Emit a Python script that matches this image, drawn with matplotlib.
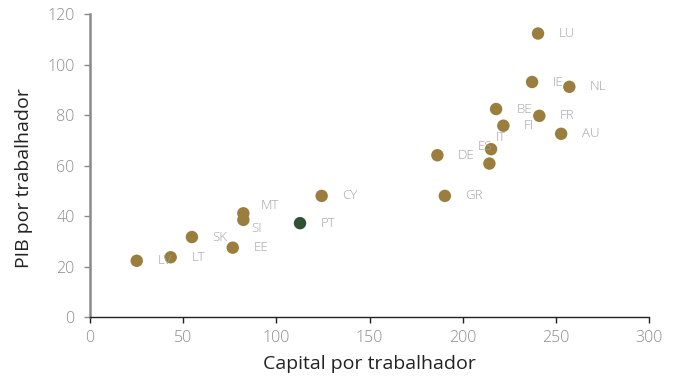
import matplotlib.pyplot as plt

countries = ["LU", "IE", "NL", "BE", "FR", "FI", "AU", "IT", "ES", "DE", "GR",
             "CY", "PT", "MT", "SI", "SK", "EE", "LT", "LV"]
capital = [240.4, 237.2, 257.2, 217.9, 241.1, 221.8, 252.8, 215.2, 214.3, 186.4, 190.4,
           124.3, 112.7, 82.3, 82.3, 54.7, 76.6, 43.3, 25.1]
pib = [112.3, 93.1, 91.2, 82.4, 79.7, 75.8, 72.6, 66.5, 60.8, 64.1, 48.0,
       48.0, 37.2, 41.1, 38.5, 31.7, 27.5, 23.7, 22.3]

# label offsets in pixels (dx, dy), default to the right of the point
offsets = {"IT": (5, 12), "ES": (-12, 17), "MT": (17, 8), "SI": (8, -9)}

gold = "#9b7d3d"
green = "#2f5234"
colors = [green if c == "PT" else gold for c in countries]

plt.rcParams["font.family"] = ["Open Sans", "DejaVu Sans"]
fig = plt.figure(figsize=(6.79, 3.91), dpi=100)
ax = fig.add_axes([0.1325, 0.189, 0.8235, 0.775])

ax.scatter(capital, pib, s=80, c=colors, linewidths=0, zorder=3)
for c, x, y in zip(countries, capital, pib):
    dx, dy = offsets.get(c, (20.5, 0))
    ax.annotate(c, (x, y), xytext=(dx * 0.72, dy * 0.72), textcoords="offset points",
                ha="left", va="center", fontsize=9.5, color="#a3a3a3", fontweight="light")

ax.set_xlim(0, 300)
ax.set_ylim(0, 120)
ax.set_xticks(range(0, 301, 50))
ax.set_yticks(range(0, 121, 20))
ax.spines["top"].set_visible(False)
ax.spines["right"].set_visible(False)
ax.spines["left"].set_color("#8a8a8a")
ax.spines["left"].set_linewidth(1.8)
ax.spines["bottom"].set_color("#222222")
ax.spines["bottom"].set_linewidth(1.0)
ax.tick_params(axis="y", colors="#8a8a8a", labelcolor="#8c8c8c", length=4, width=1, labelsize=11.5, pad=7)
ax.tick_params(axis="x", colors="#222222", labelcolor="#8c8c8c", length=4, width=1, labelsize=11.5, pad=5)
for lbl in ax.get_xticklabels() + ax.get_yticklabels():
    lbl.set_fontweight("light")
ax.set_xlabel("Capital por trabalhador", fontsize=14, color="#222222", labelpad=7)
ax.set_ylabel("PIB por trabalhador", fontsize=14, color="#222222")
ax.yaxis.set_label_coords(-0.102, 0.46)

fig.savefig("out.png", dpi=100)
plt.close()
